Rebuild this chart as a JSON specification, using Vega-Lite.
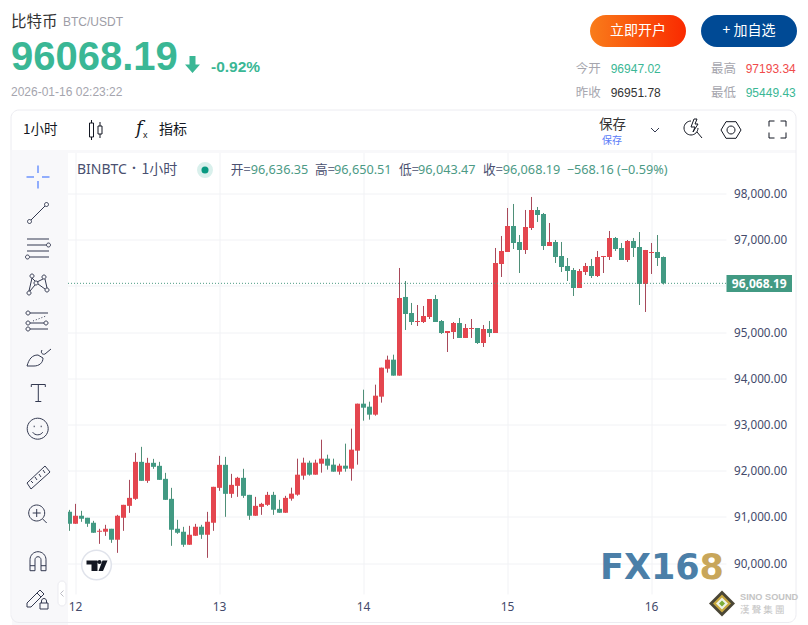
{"$schema":"https://vega.github.io/schema/vega-lite/v6.json","width":658.5,"height":441.5,"autosize":"none","padding":{"left":68,"top":153,"right":81.5,"bottom":30.5},"background":"#ffffff",
"config":{"view":{"stroke":null},"text":{"baseline":"middle","align":"left","font":"Noto Sans CJK SC","color":"#333333"},"point":{"filled":false,"size":4,"stroke":"#333950","strokeWidth":1,"opacity":1},"rule":{"stroke":"#e3e5ec","strokeWidth":1}},
"data":{"values":[{}]},
"datasets":{"candles":[
{"t":"2026-01-11T23:00:00Z","o":91119,"h":91162,"l":90708,"c":90859},
{"t":"2026-01-12T00:00:00Z","o":90859,"h":91292,"l":90859,"c":91033},
{"t":"2026-01-12T01:00:00Z","o":91033,"h":91141,"l":90903,"c":90968},
{"t":"2026-01-12T02:00:00Z","o":90989,"h":90989,"l":90794,"c":90859},
{"t":"2026-01-12T03:00:00Z","o":90881,"h":90924,"l":90664,"c":90664},
{"t":"2026-01-12T04:00:00Z","o":90686,"h":90751,"l":90426,"c":90708},
{"t":"2026-01-12T05:00:00Z","o":90686,"h":90838,"l":90599,"c":90751},
{"t":"2026-01-12T06:00:00Z","o":90751,"h":90751,"l":90448,"c":90513},
{"t":"2026-01-12T07:00:00Z","o":90513,"h":91054,"l":90231,"c":91033},
{"t":"2026-01-12T08:00:00Z","o":90989,"h":91271,"l":90708,"c":91271},
{"t":"2026-01-12T09:00:00Z","o":91249,"h":91812,"l":91097,"c":91422},
{"t":"2026-01-12T10:00:00Z","o":91401,"h":92397,"l":91379,"c":92202},
{"t":"2026-01-12T11:00:00Z","o":92202,"h":92527,"l":91791,"c":91791},
{"t":"2026-01-12T12:00:00Z","o":91791,"h":92289,"l":91747,"c":92181},
{"t":"2026-01-12T13:00:00Z","o":92181,"h":92267,"l":92051,"c":92094},
{"t":"2026-01-12T14:00:00Z","o":92116,"h":92202,"l":91812,"c":91812},
{"t":"2026-01-12T15:00:00Z","o":91834,"h":91964,"l":91379,"c":91379},
{"t":"2026-01-12T16:00:00Z","o":91401,"h":91639,"l":90383,"c":90729},
{"t":"2026-01-12T17:00:00Z","o":90751,"h":90946,"l":90643,"c":90664},
{"t":"2026-01-12T18:00:00Z","o":90686,"h":90794,"l":90361,"c":90404},
{"t":"2026-01-12T19:00:00Z","o":90404,"h":90816,"l":90404,"c":90621},
{"t":"2026-01-12T20:00:00Z","o":90599,"h":90859,"l":90599,"c":90794},
{"t":"2026-01-12T21:00:00Z","o":90794,"h":90838,"l":90534,"c":90621},
{"t":"2026-01-12T22:00:00Z","o":90621,"h":91119,"l":90123,"c":90903},
{"t":"2026-01-12T23:00:00Z","o":90881,"h":91661,"l":90708,"c":91661},
{"t":"2026-01-13T00:00:00Z","o":91639,"h":92332,"l":91574,"c":92137},
{"t":"2026-01-13T01:00:00Z","o":92137,"h":92310,"l":91011,"c":91509},
{"t":"2026-01-13T02:00:00Z","o":91509,"h":91942,"l":91422,"c":91704},
{"t":"2026-01-13T03:00:00Z","o":91682,"h":91877,"l":91444,"c":91856},
{"t":"2026-01-13T04:00:00Z","o":91856,"h":92051,"l":91422,"c":91466},
{"t":"2026-01-13T05:00:00Z","o":91487,"h":91487,"l":90946,"c":91033},
{"t":"2026-01-13T06:00:00Z","o":91033,"h":91444,"l":91033,"c":91249},
{"t":"2026-01-13T07:00:00Z","o":91227,"h":91314,"l":91054,"c":91292},
{"t":"2026-01-13T08:00:00Z","o":91271,"h":91552,"l":91249,"c":91487},
{"t":"2026-01-13T09:00:00Z","o":91487,"h":91552,"l":91054,"c":91162},
{"t":"2026-01-13T10:00:00Z","o":91184,"h":91379,"l":91097,"c":91097},
{"t":"2026-01-13T11:00:00Z","o":91097,"h":91466,"l":91097,"c":91422},
{"t":"2026-01-13T12:00:00Z","o":91404,"h":91643,"l":91361,"c":91513},
{"t":"2026-01-13T13:00:00Z","o":91491,"h":92271,"l":91469,"c":91924},
{"t":"2026-01-13T14:00:00Z","o":91903,"h":92292,"l":91816,"c":92184},
{"t":"2026-01-13T15:00:00Z","o":92184,"h":92227,"l":91903,"c":91924},
{"t":"2026-01-13T16:00:00Z","o":91924,"h":92249,"l":91924,"c":92184},
{"t":"2026-01-13T17:00:00Z","o":92162,"h":92682,"l":91968,"c":92271},
{"t":"2026-01-13T18:00:00Z","o":92271,"h":92357,"l":92033,"c":92119},
{"t":"2026-01-13T19:00:00Z","o":92141,"h":92271,"l":91989,"c":91989},
{"t":"2026-01-13T20:00:00Z","o":91989,"h":92162,"l":91924,"c":92119},
{"t":"2026-01-13T21:00:00Z","o":92119,"h":92596,"l":91989,"c":92054},
{"t":"2026-01-13T22:00:00Z","o":92054,"h":92921,"l":91794,"c":92466},
{"t":"2026-01-13T23:00:00Z","o":92444,"h":93462,"l":92141,"c":93462},
{"t":"2026-01-14T00:00:00Z","o":93462,"h":93765,"l":93094,"c":93375},
{"t":"2026-01-14T01:00:00Z","o":93397,"h":93505,"l":93116,"c":93224},
{"t":"2026-01-14T02:00:00Z","o":93224,"h":93874,"l":93202,"c":93635},
{"t":"2026-01-14T03:00:00Z","o":93614,"h":94242,"l":93484,"c":94242},
{"t":"2026-01-14T04:00:00Z","o":94220,"h":94502,"l":94134,"c":94415},
{"t":"2026-01-14T05:00:00Z","o":94415,"h":94523,"l":94069,"c":94069},
{"t":"2026-01-14T06:00:00Z","o":94069,"h":96401,"l":94069,"c":95751},
{"t":"2026-01-14T07:00:00Z","o":95773,"h":96119,"l":95058,"c":95404},
{"t":"2026-01-14T08:00:00Z","o":95426,"h":95643,"l":95166,"c":95231},
{"t":"2026-01-14T09:00:00Z","o":95231,"h":95599,"l":95144,"c":95253},
{"t":"2026-01-14T10:00:00Z","o":95231,"h":95578,"l":95209,"c":95361},
{"t":"2026-01-14T11:00:00Z","o":95339,"h":95729,"l":95296,"c":95729},
{"t":"2026-01-14T12:00:00Z","o":95729,"h":95816,"l":95231,"c":95231},
{"t":"2026-01-14T13:00:00Z","o":95253,"h":95274,"l":94971,"c":94993},
{"t":"2026-01-14T14:00:00Z","o":94993,"h":95036,"l":94581,"c":95036},
{"t":"2026-01-14T15:00:00Z","o":95014,"h":95231,"l":94863,"c":95209},
{"t":"2026-01-14T16:00:00Z","o":95209,"h":95318,"l":94885,"c":94885},
{"t":"2026-01-14T17:00:00Z","o":94885,"h":95188,"l":94885,"c":95101},
{"t":"2026-01-14T18:00:00Z","o":95079,"h":95296,"l":94885,"c":95101},
{"t":"2026-01-14T19:00:00Z","o":95101,"h":95101,"l":94755,"c":94776},
{"t":"2026-01-14T20:00:00Z","o":94776,"h":95166,"l":94690,"c":95079},
{"t":"2026-01-14T21:00:00Z","o":95079,"h":95253,"l":94906,"c":94993},
{"t":"2026-01-14T22:00:00Z","o":94993,"h":96834,"l":94993,"c":96509},
{"t":"2026-01-14T23:00:00Z","o":96487,"h":97094,"l":96206,"c":96769},
{"t":"2026-01-15T00:00:00Z","o":96747,"h":97700,"l":96747,"c":97310},
{"t":"2026-01-15T01:00:00Z","o":97310,"h":97787,"l":96812,"c":96942},
{"t":"2026-01-15T02:00:00Z","o":96964,"h":97115,"l":96292,"c":96791},
{"t":"2026-01-15T03:00:00Z","o":96791,"h":97657,"l":96704,"c":97289},
{"t":"2026-01-15T04:00:00Z","o":97267,"h":97939,"l":97224,"c":97657},
{"t":"2026-01-15T05:00:00Z","o":97657,"h":97722,"l":97397,"c":97549},
{"t":"2026-01-15T06:00:00Z","o":97570,"h":97592,"l":96791,"c":96877},
{"t":"2026-01-15T07:00:00Z","o":96877,"h":97375,"l":96877,"c":96964},
{"t":"2026-01-15T08:00:00Z","o":96964,"h":97007,"l":96509,"c":96639},
{"t":"2026-01-15T09:00:00Z","o":96661,"h":96964,"l":96314,"c":96422},
{"t":"2026-01-15T10:00:00Z","o":96444,"h":96617,"l":96119,"c":96336},
{"t":"2026-01-15T11:00:00Z","o":96357,"h":96401,"l":95794,"c":95968},
{"t":"2026-01-15T12:00:00Z","o":95968,"h":96379,"l":95968,"c":96336},
{"t":"2026-01-15T13:00:00Z","o":96314,"h":96509,"l":96249,"c":96444},
{"t":"2026-01-15T14:00:00Z","o":96444,"h":96596,"l":96184,"c":96227},
{"t":"2026-01-15T15:00:00Z","o":96227,"h":96769,"l":96206,"c":96639},
{"t":"2026-01-15T16:00:00Z","o":96639,"h":96661,"l":96292,"c":96661},
{"t":"2026-01-15T17:00:00Z","o":96639,"h":97202,"l":96574,"c":97051},
{"t":"2026-01-15T18:00:00Z","o":97051,"h":97072,"l":96769,"c":96812},
{"t":"2026-01-15T19:00:00Z","o":96834,"h":96942,"l":96574,"c":96574},
{"t":"2026-01-15T20:00:00Z","o":96574,"h":97007,"l":96531,"c":96986},
{"t":"2026-01-15T21:00:00Z","o":96986,"h":97051,"l":96639,"c":96834},
{"t":"2026-01-15T22:00:00Z","o":96856,"h":97180,"l":95599,"c":96054},
{"t":"2026-01-15T23:00:00Z","o":96054,"h":96791,"l":95448,"c":96791},
{"t":"2026-01-16T00:00:00Z","o":96726,"h":96942,"l":96271,"c":96747},
{"t":"2026-01-16T01:00:00Z","o":96747,"h":97115,"l":96444,"c":96617},
{"t":"2026-01-16T02:00:00Z","o":96636.35,"h":96650.51,"l":96043.47,"c":96068.19}
]},
"layer":[
{"mark":{"type":"rect","x":-56,"x2":0,"y":-3,"y2":472,"fill":"#f8f8fa"}},
{"mark":{"type":"rect","x":-56,"x2":728,"y":-3,"y2":0,"fill":"#f8f8fa"}},
{"mark":{"type":"rect","x":-57,"x2":728,"y":-43,"y2":469.5,"fill":"transparent","stroke":"#ececf1","strokeWidth":1,"cornerRadius":8}},
{"data":{"name":"candles"},"encoding":{"x":{"field":"t","type":"temporal","title":null,"scale":{"type":"utc","nice":false,"padding":0,"domain":["2026-01-11T22:45:00Z","2026-01-16T12:30:00Z"]},"axis":{"translate":0,"format":"%-d","values":[{"year":2026,"month":1,"date":12,"utc":true},{"year":2026,"month":1,"date":13,"utc":true},{"year":2026,"month":1,"date":14,"utc":true},{"year":2026,"month":1,"date":15,"utc":true},{"year":2026,"month":1,"date":16,"utc":true}],"domain":false,"ticks":false,"grid":true,"gridColor":"#f1f2f5","labelPadding":7,"labelFont":"Noto Sans","labelFontSize":12,"labelColor":"#434a6b","labelFlush":false}}},
"layer":[
{"mark":{"type":"rule","clip":true,"strokeWidth":1},"encoding":{"y":{"field":"l","type":"quantitative","title":null,"scale":{"domain":[89329,98891],"nice":false,"padding":0},"axis":{"orient":"right","translate":0,"values":[90000,91000,92000,93000,94000,95000,96000,97000,98000],"format":",.2f","labelExpr":"datum.value==96000?'':datum.label","domain":false,"ticks":false,"grid":true,"gridColor":"#f1f2f5","labelPadding":7.5,"labelFont":"Noto Sans","labelFontSize":11.7,"labelColor":"#434a6b"}},"y2":{"field":"h"},"stroke":{"condition":{"test":"datum.c>=datum.o","value":"#a8495a"},"value":"#4f8f78"}}},
{"mark":{"type":"bar","size":5,"clip":true},"encoding":{"y":{"field":"o","type":"quantitative","title":null,"scale":{"domain":[89329,98891],"nice":false,"padding":0},"axis":{"orient":"right","translate":0,"values":[90000,91000,92000,93000,94000,95000,96000,97000,98000],"format":",.2f","labelExpr":"datum.value==96000?'':datum.label","domain":false,"ticks":false,"grid":true,"gridColor":"#f1f2f5","labelPadding":7.5,"labelFont":"Noto Sans","labelFontSize":11.7,"labelColor":"#434a6b"}},"y2":{"field":"c"},"color":{"condition":{"test":"datum.c>=datum.o","value":"#e4464f"},"value":"#429a83"}}}
]},
{"mark":{"type":"rule","stroke":"#4e9a84","strokeDash":[1,2],"x":0,"x2":658},"encoding":{"y":{"datum":96068.19,"type":"quantitative","title":null,"scale":{"domain":[89329,98891],"nice":false,"padding":0},"axis":{"orient":"right","translate":0,"values":[90000,91000,92000,93000,94000,95000,96000,97000,98000],"format":",.2f","labelExpr":"datum.value==96000?'':datum.label","domain":false,"ticks":false,"grid":true,"gridColor":"#f1f2f5","labelPadding":7.5,"labelFont":"Noto Sans","labelFontSize":11.7,"labelColor":"#434a6b"}}}},
{"mark":{"type":"rule","stroke":"#4c5a80","x":658.5,"y":0,"y2":469},"encoding":{}},
{"mark":{"type":"rule","stroke":"#4c5a80","x":0,"x2":729,"y":441.5},"encoding":{}},
{"mark":{"type":"rect","x":658.5,"x2":724,"y":122,"y2":139,"fill":"#429a83"}},
{"mark":{"type":"text","text":"96,068.19","x":691.25,"y":130.5,"align":"center","font":"Noto Sans","fontWeight":"bold","fontSize":12,"color":"#ffffff"}},

{"mark":{"type":"text","text":"比特币","x":-57,"y":-131.5,"fontSize":15.5}},
{"mark":{"type":"text","text":"BTC/USDT","x":-5,"y":-131,"font":"Liberation Sans","fontSize":12,"color":"#9d9da6"}},
{"mark":{"type":"text","text":"96068.19","x":-57,"y":-95,"font":"Liberation Sans","fontWeight":"bold","fontSize":40,"color":"#3ab795"}},
{"mark":{"type":"point","shape":"M-3 -8.5H3V0H7.5L0 8.5L-7.5 0H-3Z","x":124.5,"y":-88.5,"filled":true,"fill":"#3ab795","stroke":null}},
{"mark":{"type":"text","text":"-0.92%","x":143,"y":-86,"font":"Liberation Sans","fontWeight":"bold","fontSize":15.5,"color":"#3ab795"}},
{"mark":{"type":"text","text":"2026-01-16 02:23:22","x":-57,"y":-61,"font":"Liberation Sans","fontSize":12,"color":"#a5a5ae"}},

{"mark":{"type":"rect","x":522,"x2":618,"y":-138,"y2":-106,"cornerRadius":16,"fill":{"gradient":"linear","x1":0,"x2":1,"y1":0,"y2":0,"stops":[{"offset":0,"color":"#f97c1a"},{"offset":1,"color":"#fa2a00"}]}}},
{"mark":{"type":"text","text":"立即开户","x":570,"y":-122,"align":"center","fontSize":14,"color":"#ffffff"}},
{"mark":{"type":"rect","x":633,"x2":729,"y":-138,"y2":-106,"cornerRadius":16,"fill":"#004a95"}},
{"mark":{"type":"text","text":"+ 加自选","x":681,"y":-122,"align":"center","fontSize":14,"color":"#ffffff"}},

{"mark":{"type":"text","text":"今开","x":507.7,"y":-84,"fontSize":12.5,"color":"#a6a6ae"}},
{"mark":{"type":"text","text":"96947.02","x":542.7,"y":-84,"font":"Liberation Sans","fontSize":12,"color":"#3ab795"}},
{"mark":{"type":"text","text":"最高","x":643,"y":-84,"fontSize":12.5,"color":"#a6a6ae"}},
{"mark":{"type":"text","text":"97193.34","x":677.7,"y":-84,"font":"Liberation Sans","fontSize":12,"color":"#f04b4b"}},
{"mark":{"type":"text","text":"昨收","x":507.7,"y":-60,"fontSize":12.5,"color":"#a6a6ae"}},
{"mark":{"type":"text","text":"96951.78","x":542.7,"y":-60,"font":"Liberation Sans","fontSize":12,"color":"#333333"}},
{"mark":{"type":"text","text":"最低","x":643,"y":-60,"fontSize":12.5,"color":"#a6a6ae"}},
{"mark":{"type":"text","text":"95449.43","x":677.7,"y":-60,"font":"Liberation Sans","fontSize":12,"color":"#3ab795"}},

{"mark":{"type":"text","text":"1小时","x":-45,"y":-23,"fontSize":13.5,"color":"#131722"}},
{"mark":{"type":"rule","x":3.5,"y":-34,"y2":-12},"encoding":{}},
{"mark":{"type":"point","shape":"M-6.5 -7H-2.5V7H-6.5Z M-4.5 -10V-7 M-4.5 7V10 M2 -4H6V4H2Z M4 -8V-4 M4 4V8","x":28,"y":-23,"stroke":"#131722"}},
{"mark":{"type":"rule","x":50.5,"y":-34,"y2":-12},"encoding":{}},
{"mark":{"type":"text","text":"f","x":68,"y":-24,"font":"DejaVu Serif","fontStyle":"italic","fontSize":18,"color":"#131722"}},
{"mark":{"type":"text","text":"x","x":75,"y":-18,"font":"Liberation Sans","fontSize":9,"color":"#131722"}},
{"mark":{"type":"text","text":"指标","x":91,"y":-23,"fontSize":14,"color":"#131722"}},
{"mark":{"type":"text","text":"保存","x":531,"y":-28,"fontSize":13.5,"color":"#333333"}},
{"mark":{"type":"text","text":"保存","x":534,"y":-12.5,"fontSize":10,"color":"#5b7cf8"}},
{"mark":{"type":"point","shape":"M-4 -2L0 2L4 -2","x":587,"y":-23,"stroke":"#333950"}},
{"mark":{"type":"rule","x":601.5,"y":-34,"y2":-12},"encoding":{}},
{"mark":{"type":"point","shape":"M-2 -8A7 7 0 1 0 5 -1M4 3L9 9M1 -10L-2 -2H2L0 3L5 -5H2L4 -10Z","x":625,"y":-24,"stroke":"#131722"}},
{"mark":{"type":"point","shape":"M-10 0L-5 -8.3H5L10 0L5 8.3H-5Z M-4 0a4 4 0 1 0 8 0a4 4 0 1 0 -8 0","x":663,"y":-23,"stroke":"#131722"}},
{"mark":{"type":"rule","x":686.5,"y":-34,"y2":-12},"encoding":{}},
{"mark":{"type":"point","shape":"M-8.5 -3V-8.5H-3M3 -8.5H8.5V-3M8.5 3V8.5H3M-3 8.5H-8.5V3","x":709.5,"y":-23.5,"stroke":"#131722"}},

{"mark":{"type":"text","text":"BINBTC","x":9,"y":17,"font":"Noto Sans","fontSize":14,"color":"#4a5070"}},
{"mark":{"type":"text","text":"·","x":64,"y":16,"font":"Noto Sans","fontWeight":"bold","fontSize":14,"color":"#4a5070"}},
{"mark":{"type":"text","text":"1小时","x":73.5,"y":17,"fontSize":14,"color":"#4a5070"}},
{"mark":{"type":"circle","x":137,"y":17,"size":254,"color":"#d9f0ec","opacity":1}},
{"mark":{"type":"circle","x":137,"y":17,"size":50,"color":"#089981","opacity":1}},
{"mark":{"type":"text","text":"开=","x":162.7,"y":17,"fontSize":12.7,"color":"#4a5070"}},
{"mark":{"type":"text","text":"96,636.35","x":182.7,"y":17,"font":"Noto Sans","fontSize":12.7,"color":"#4c9a85"}},
{"mark":{"type":"text","text":"高=","x":247,"y":17,"fontSize":12.7,"color":"#4a5070"}},
{"mark":{"type":"text","text":"96,650.51","x":266,"y":17,"font":"Noto Sans","fontSize":12.7,"color":"#4c9a85"}},
{"mark":{"type":"text","text":"低=","x":331,"y":17,"fontSize":12.7,"color":"#4a5070"}},
{"mark":{"type":"text","text":"96,043.47","x":350,"y":17,"font":"Noto Sans","fontSize":12.7,"color":"#4c9a85"}},
{"mark":{"type":"text","text":"收=","x":415,"y":17,"fontSize":12.7,"color":"#4a5070"}},
{"mark":{"type":"text","text":"96,068.19","x":434.7,"y":17,"font":"Noto Sans","fontSize":12.7,"color":"#4c9a85"}},
{"mark":{"type":"text","text":"−568.16","x":498.7,"y":17,"font":"Noto Sans","fontSize":12.7,"color":"#4c9a85"}},
{"mark":{"type":"text","text":"(−0.59%)","x":549,"y":17,"font":"Noto Sans","fontSize":12.7,"color":"#4c9a85"}},

{"mark":{"type":"point","shape":"M-11.5 0H-4M4 0H11.5M0 -11.5V-4M0 4V11.5","x":-30,"y":24,"stroke":"#2962ff"}},
{"mark":{"type":"point","shape":"M-7 7L7 -7M-10.5 8.5a2 2 0 1 0 4 0a2 2 0 1 0 -4 0M6.5 -8.5a2 2 0 1 0 4 0a2 2 0 1 0 -4 0","x":-30,"y":60}},
{"mark":{"type":"point","shape":"M-11 -9H11M-11 -3H8.5M-11 3H11M-8 9H11M8.5 -3a2 2 0 1 0 4 0a2 2 0 1 0 -4 0M-12.5 9a2 2 0 1 0 4 0a2 2 0 1 0 -4 0","x":-30,"y":95}},
{"mark":{"type":"point","shape":"M-6 -5L-9 8M-6 -5L-3 -2M-1 -1L5 -4M7 -4L9 5M-8 8L-3 2M0 1L7 6M-8 -7a2 2 0 1 0 4 0a2 2 0 1 0 -4 0M4 -6a2 2 0 1 0 4 0a2 2 0 1 0 -4 0M-11 10a2 2 0 1 0 4 0a2 2 0 1 0 -4 0M7 7a2 2 0 1 0 4 0a2 2 0 1 0 -4 0M-4 0a2 2 0 1 0 4 0a2 2 0 1 0 -4 0","x":-30,"y":130}},
{"mark":{"type":"point","shape":"M-8 -9H10M-8 1H6M-8 7H10M-12 -9a2 2 0 1 0 4 0a2 2 0 1 0 -4 0M-12 1a2 2 0 1 0 4 0a2 2 0 1 0 -4 0M6 1a2 2 0 1 0 4 0a2 2 0 1 0 -4 0M-12 7a2 2 0 1 0 4 0a2 2 0 1 0 -4 0","x":-30,"y":169}},
{"mark":{"type":"point","shape":"M-5 -1L8 -6","x":-30,"y":169,"strokeDash":[1,2]}},
{"mark":{"type":"point","shape":"M-11 8C-9 1 -6 -3 0 -3L5 0C5 5 1 8 -4 8ZM4 -8C2 -5 5 -3 7 -4L13 -9","x":-30,"y":205}},
{"mark":{"type":"point","shape":"M-7 -6V-8.5H7V-6M0 -8.5V8.5M-3 8.5H3","x":-29.7,"y":240}},
{"mark":{"type":"point","shape":"M-10.5 0a10.5 10.5 0 1 0 21 0a10.5 10.5 0 1 0 -21 0M-5 3.5C-3 7 3 7 5 3.5M-3.5 -3v1.5M3.5 -3v1.5","x":-30.3,"y":275.7}},
{"mark":{"type":"rule","x":-48,"x2":-12,"y":300.5},"encoding":{}},
{"mark":{"type":"point","shape":"M-11 5L-7 11L12 -6L7 -12ZM-7 3L-5 5M-3 -1L-1 2M1 -4L3 -1M5 -8L7 -5","x":-30,"y":325}},
{"mark":{"type":"point","shape":"M-8 0a8 8 0 1 0 16 0a8 8 0 1 0 -16 0M-4 0H4M0 -4V4M6 6L10 10","x":-31.3,"y":360}},
{"mark":{"type":"rule","x":-48,"x2":-12,"y":385.5},"encoding":{}},
{"mark":{"type":"point","shape":"M-8 9V-2A8 8 0 0 1 8 -2V9H3V-2A3 3 0 0 0 -3 -2V9ZM-8 4H-3M3 4H8","x":-30,"y":408.7}},
{"mark":{"type":"point","shape":"M-11 5L2 -8L6 -4L-7 9L-11 9ZM-1 -5L3 -1M2 5H10V11H2ZM3.5 5V3a2.5 2.5 0 0 1 5 0V5","x":-30,"y":445}},
{"mark":{"type":"rect","x":-10,"x2":-2,"y":428,"y2":453,"fill":"#ffffff","stroke":"#ebebf0","cornerRadius":4}},
{"mark":{"type":"point","shape":"M1.5 -3L-1.5 0L1.5 3","x":-6,"y":440.5,"stroke":"#bbbbc4"}},

{"mark":{"type":"circle","x":28.5,"y":412,"size":880,"fill":"#ffffff","stroke":"#e0e3eb","strokeWidth":1.5,"opacity":1}},
{"mark":{"type":"point","shape":"M-10 -4.5H1V6H-5V-0.5H-10ZM6 -4.5H11L6.5 6H2ZM1 -3a2 2 0 1 0 4 0a2 2 0 1 0 -4 0","x":28.5,"y":412,"filled":true,"fill":"#131722","stroke":null}},

{"mark":{"type":"text","text":"FX16","x":532,"y":414.5,"font":"DejaVu Sans","fontWeight":"bold","fontSize":35,"color":"#4b7fa8"}},
{"mark":{"type":"text","text":"8","x":631.6,"y":414.5,"font":"DejaVu Sans","fontWeight":"bold","fontSize":35,"color":"#c8a65a"}},
{"mark":{"type":"point","shape":"M0 -13L13 0L0 13L-13 0Z","x":654,"y":450.5,"filled":true,"fill":"#4a4636","stroke":null}},
{"mark":{"type":"point","shape":"M0 -9L9 0L0 9L-9 0Z","x":654,"y":450.5,"filled":true,"fill":"#c9a93f","stroke":null}},
{"mark":{"type":"point","shape":"M0 -6L6 0L0 6L-6 0Z","x":654,"y":450.5,"filled":true,"fill":"#eef3e6","stroke":null}},
{"mark":{"type":"point","shape":"M0 -3L3 0L0 3L-3 0Z","x":654,"y":450.5,"filled":true,"fill":"#7cae3a","stroke":null}},
{"mark":{"type":"text","text":"SINO SOUND","x":672,"y":444,"font":"Liberation Sans","fontWeight":"bold","fontSize":9.2,"color":"#c4c4c4"}},
{"mark":{"type":"text","text":"漢  聲  集  團","x":672,"y":456.5,"fontSize":9.5,"color":"#c4c4c4"}}
]}
